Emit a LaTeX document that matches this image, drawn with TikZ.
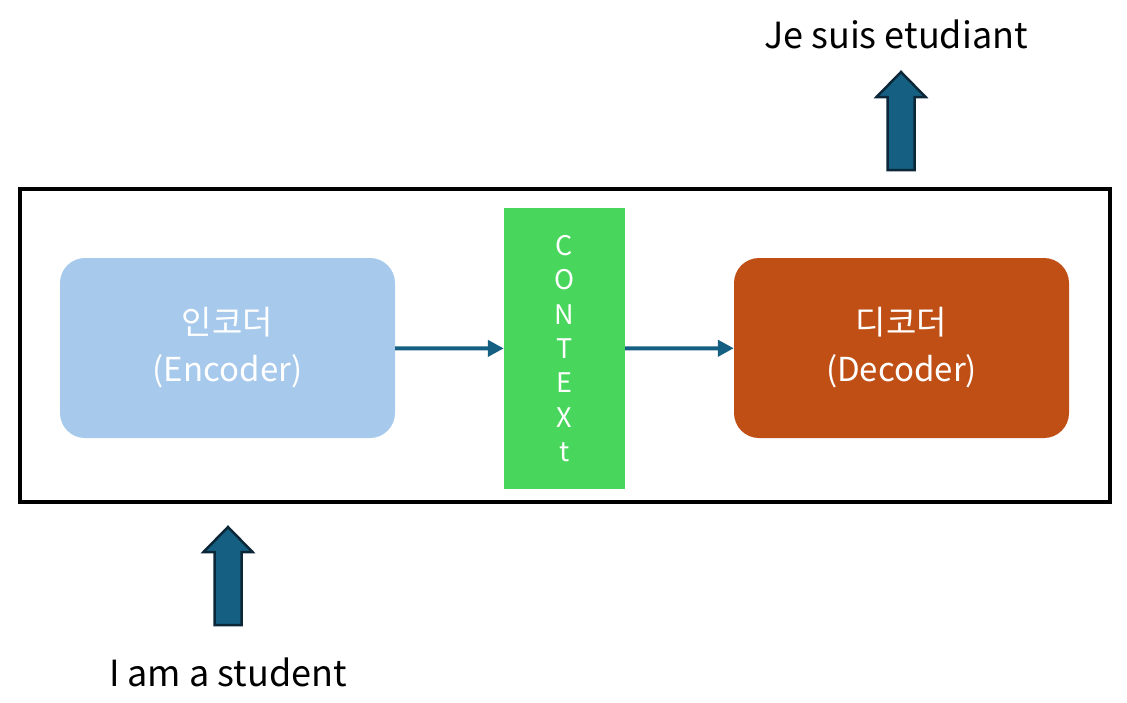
\documentclass[tikz,border=0pt]{standalone}
\usepackage{fontspec}
\setmainfont{Noto Sans CJK KR}
\usepackage{tikz}
\usetikzlibrary{arrows.meta,positioning}
\definecolor{encblue}{RGB}{166,201,236}
\definecolor{decorange}{RGB}{192,79,21}
\definecolor{ctxgreen}{RGB}{73,214,93}
\definecolor{arrowblue}{RGB}{21,96,130}
\definecolor{arrowedge}{RGB}{12,40,56}
\begin{document}
\begin{tikzpicture}[x=1pt,y=-1pt,
    every node/.style={align=center,inner sep=0pt},
    model/.style={rounded corners=25pt,minimum width=335pt,minimum height=180pt,text=white,
      font=\fontsize{33}{47}\selectfont},
    conn/.style={arrowblue,line width=4pt,-{Triangle[length=16pt,width=16pt]}},
    blockarrow/.style={fill=arrowblue,draw=arrowedge,line width=2.5pt,line join=miter},
    sentence/.style={font=\fontsize{36}{40}\selectfont}]
  \useasboundingbox (0,0) rectangle (1127,702);
  \node[draw,line width=4pt,minimum width=1090pt,minimum height=313pt] (frame) at (565,345.5) {};
  \node[model,fill=encblue] (enc) at (227.5,348) {인코더\\(Encoder)};
  \node[model,fill=decorange] (dec) at (901.5,348) {디코더\\(Decoder)};
  \node[fill=ctxgreen,minimum width=121pt,minimum height=281pt,text=white,
    font=\fontsize{27}{34.3}\selectfont] (ctx) at (564.5,348.5) {C\\O\\N\\T\\E\\X\\t};
  \draw[conn] (enc) -- (ctx);
  \draw[conn] (ctx) -- (dec);
  % input / output
  \draw[blockarrow] (214.5,625) -- (214.5,552) -- (203.5,552) -- (228,527) -- (252.5,552)
    -- (241.5,552) -- (241.5,625) -- cycle;
  \draw[blockarrow] (887.5,170) -- (887.5,97) -- (876.5,97) -- (901,72) -- (925.5,97)
    -- (914.5,97) -- (914.5,170) -- cycle;
  \node[sentence] (src) at (228,672) {I am a student};
  \node[sentence] (tgt) at (896,34) {Je suis etudiant};
\end{tikzpicture}
\end{document}
